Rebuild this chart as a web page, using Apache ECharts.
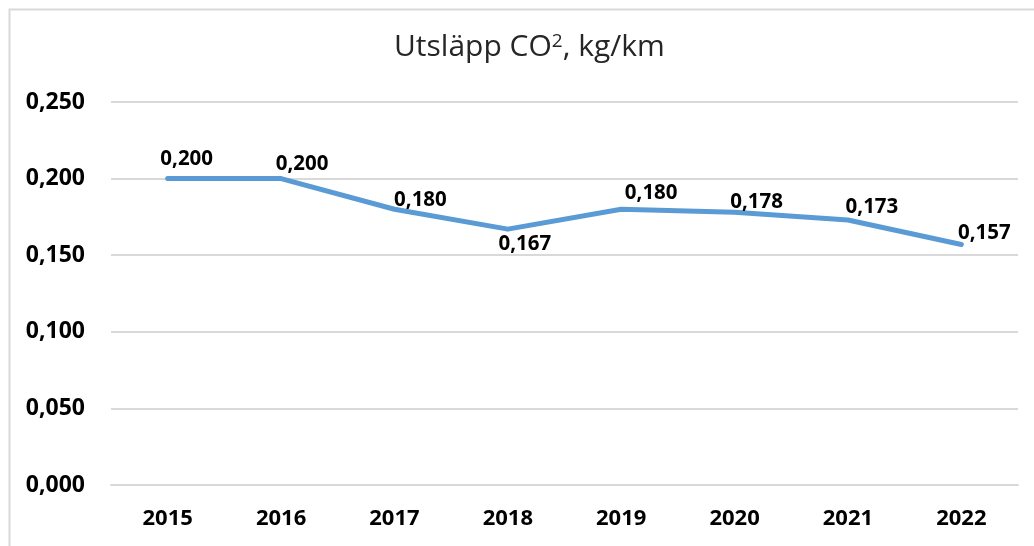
<!DOCTYPE html>
<html>
<head>
<meta charset="utf-8">
<script src="https://cdn.jsdelivr.net/npm/echarts@6/dist/echarts.min.js"></script>
<style>
  html, body { margin: 0; padding: 0; background: #fff; }
  #chart { width: 1034px; height: 546px; }
</style>
</head>
<body>
<div id="chart"></div>
<script>
var years = ["2015", "2016", "2017", "2018", "2019", "2020", "2021", "2022"];
var emissions = [0.200, 0.200, 0.180, 0.167, 0.180, 0.178, 0.173, 0.157];
var yTicks = [0, 0.05, 0.1, 0.15, 0.2, 0.25];

// label nudges, Excel put them a bit to the right of each point
var labelOffsets = [[19, -2], [21, 3], [26, 8], [17, -2], [30, 1], [22, 7], [24, 5], [23, 6]];
var labelBelow = [false, false, false, true, false, false, false, false];

function fmt(v) {
    return v.toFixed(3).replace(".", ",");
}

var seriesData = emissions.map(function (v, i) {
    return {
        value: v,
        label: {
            position: labelBelow[i] ? "bottom" : "top",
            offset: labelOffsets[i]
        }
    };
});

var chart = echarts.init(document.getElementById("chart"));
chart.setOption({
    animation: false,
    textStyle: { fontFamily: "Open Sans" },
    graphic: [{
        type: "rect",
        left: 7, top: 7,
        shape: { width: 1060, height: 580 },
        style: { fill: "none", stroke: "#d9d9d9", lineWidth: 2 },
        silent: true
    }],
    title: {
        text: "Utsläpp CO{sup|2}, kg/km",
        left: 389,
        top: 27,
        textStyle: {
            fontFamily: "Open Sans",
            fontSize: 30,
            fontWeight: "normal",
            color: "#262626",
            rich: {
                sup: { fontFamily: "Open Sans", fontSize: 19, color: "#262626", verticalAlign: "top", padding: [0, 0, 11, 0] }
            }
        }
    },
    grid: { left: 111, right: 16, top: 102, bottom: 61, containLabel: false },
    xAxis: {
        type: "category",
        data: years,
        boundaryGap: true,
        axisLine: { show: true, lineStyle: { color: "#d9d9d9", width: 2 } },
        axisTick: { show: false },
        axisLabel: { fontSize: 22, fontWeight: "bold", color: "#000", margin: 23, fontFamily: "Open Sans" }
    },
    yAxis: {
        type: "value",
        min: yTicks[0],
        max: yTicks[yTicks.length - 1],
        interval: 0.05,
        axisLine: { show: false },
        axisTick: { show: false },
        splitLine: { lineStyle: { color: "#d9d9d9", width: 2 } },
        axisLabel: {
            fontSize: 23, fontWeight: "bold", color: "#000", margin: 26, fontFamily: "Open Sans",
            formatter: function (v) { return fmt(v); }
        }
    },
    series: [{
        type: "line",
        data: seriesData,
        symbol: "circle",
        symbolSize: 4,
        showSymbol: true,
        lineStyle: { color: "#5b9bd5", width: 5, cap: "round", join: "round" },
        itemStyle: { color: "#5b9bd5", borderWidth: 0 },
        label: {
            show: true,
            distance: 5,
            fontSize: 20.5,
            fontWeight: "bold",
            color: "#000",
            fontFamily: "Open Sans",
            formatter: function (p) { return fmt(p.value); }
        }
    }]
});
</script>
</body>
</html>
